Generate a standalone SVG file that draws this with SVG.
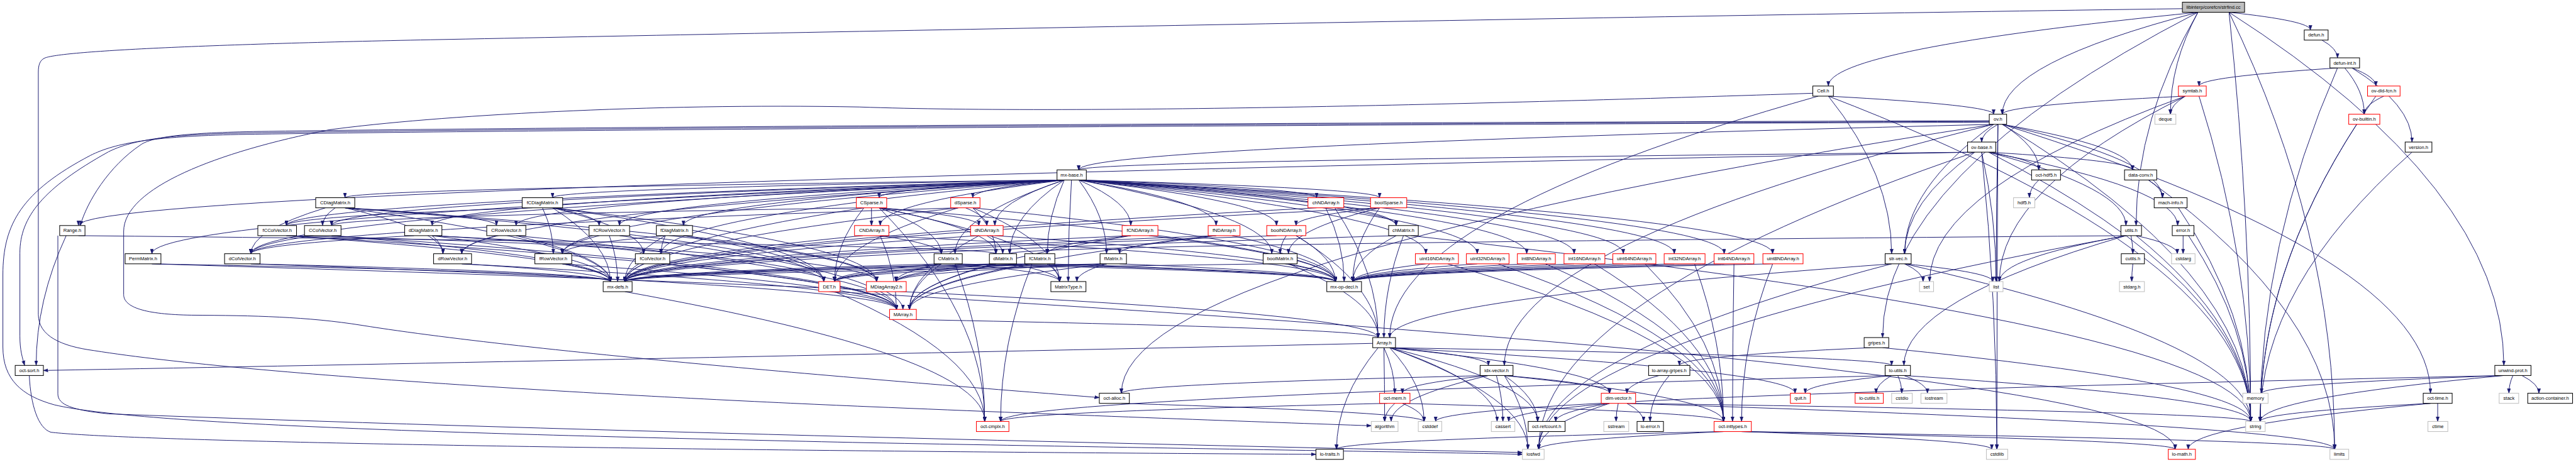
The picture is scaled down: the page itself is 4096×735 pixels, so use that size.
<svg xmlns="http://www.w3.org/2000/svg" width="4096" height="735" viewBox="0 0 4096 735">
<defs>
<marker id="a" markerUnits="userSpaceOnUse" markerWidth="14" markerHeight="10" refX="13" refY="5" orient="auto" viewBox="0 0 14 10"><path d="M0,0.5 L13,5 L0,9.5 z" fill="#191970" stroke="#191970" stroke-width="1"/></marker>
<style>
.edges path{fill:none;stroke:#191970;stroke-width:1.7;marker-end:url(#a)}
.node rect{fill:#ffffff;stroke:#000000;stroke-width:1.8}
.node.r rect{stroke:#ff0000}
.node.g rect{stroke:#bfbfbf}
.node.root rect{fill:#bfbfbf}
.node text{font-family:"Liberation Sans",Arial,Helvetica,sans-serif;font-size:13.2px;text-anchor:middle;fill:#000000}
</style>
</defs>
<rect x="0" y="0" width="4096" height="735" fill="#ffffff"/>
<g transform="scale(0.575)">
<g id="edges" class="edges">
<path d="M6164,34 Q6389,58 6389,83"/>
<path d="M6078,34 Q5056,136 5056,238"/>
<path d="M6078,34 Q5537,175 5537,316"/>
<path d="M6078,34 Q6002,175 6002,316"/>
<path d="M6078,34 Q5907,329 5907,624"/>
<path d="M6078,34 Q5206,484 5206,934"/>
<path d="M6164,34 Q6924,522 6924,1011"/>
<path d="M6164,34 Q6224,600 6224,1166"/>
<path d="M6164,34 Q6456,638 6456,1243"/>
<path d="M6035,24 C4500,45 2200,90 1190,110 C600,122 180,140 125,160 C110,166 106,180 106,200 L106,870 C106,930 170,958 260,970 C700,1040 1800,1100 2400,1125 C3000,1150 3500,1168 3792,1178"/>
<path d="M6421,111 Q6464,135 6464,160"/>
<path d="M6464,188 Q6081,213 6081,238"/>
<path d="M6504,188 Q6570,213 6570,238"/>
<path d="M6484,188 Q6538,252 6538,316"/>
<path d="M6504,188 Q6670,290 6670,393"/>
<path d="M6464,188 Q6250,677 6250,1166"/>
<path d="M6592,266 Q6538,291 6538,316"/>
<path d="M6570,266 Q6250,716 6250,1166"/>
<path d="M6517,344 Q6250,755 6250,1166"/>
<path d="M6670,421 Q6250,793 6250,1166"/>
<path d="M6043,266 Q6002,291 6002,316"/>
<path d="M6043,266 Q5537,291 5537,316"/>
<path d="M6043,266 Q5529,522 5529,779"/>
<path d="M6043,266 Q5336,522 5336,779"/>
<path d="M6081,266 Q6224,716 6224,1166"/>
<path d="M5056,266 Q5513,291 5513,316"/>
<path d="M5028,266 Q3843,600 3843,934"/>
<path d="M5013,258 C4200,285 3000,318 2376,296 C1800,285 1200,320 911,359 C600,420 342,520 342,640 L342,815 C342,850 400,870 530,872 C700,873 850,876 1000,900 C1500,980 2600,1065 3040,1100"/>
<path d="M5056,266 Q5231,484 5231,702"/>
<path d="M5056,266 Q6224,716 6224,1166"/>
<path d="M5525,344 Q5480,368 5480,393"/>
<path d="M5537,344 Q5638,407 5638,470"/>
<path d="M5537,344 Q5897,407 5897,470"/>
<path d="M5537,344 Q5980,445 5980,547"/>
<path d="M5501,334 C4000,338 1600,350 700,364 C500,368 420,380 390,400 C300,460 240,560 222,624"/>
<path d="M5501,336 C4000,341 1600,353 680,368 C450,372 360,390 300,420 C120,520 55,600 55,700 L55,930 C55,970 62,990 68,1011"/>
<path d="M5513,344 Q4160,677 4160,1011"/>
<path d="M5513,344 Q2983,407 2983,470"/>
<path d="M5513,344 Q3101,716 3101,1088"/>
<path d="M5537,344 Q6721,716 6721,1088"/>
<path d="M5513,344 Q5267,523 5267,702"/>
<path d="M5525,344 Q5522,793 5522,1243"/>
<path d="M5501,338 C4000,344 1600,357 660,372 C420,378 320,395 250,430 C60,530 8,620 8,760 L8,960 C8,1050 60,1095 150,1120 C400,1180 1500,1205 2400,1225 C3500,1245 4000,1252 4210,1257"/>
<path d="M5537,344 Q6224,755 6224,1166"/>
<path d="M5525,344 Q5520,561 5520,779"/>
<path d="M5499,421 Q5638,445 5638,470"/>
<path d="M5499,421 Q5897,445 5897,470"/>
<path d="M5461,421 Q217,522 217,624"/>
<path d="M5461,421 Q2983,445 2983,470"/>
<path d="M5461,421 Q5267,561 5267,702"/>
<path d="M5499,421 Q6022,522 6022,624"/>
<path d="M5499,421 Q5879,522 5879,624"/>
<path d="M5480,421 Q5522,832 5522,1243"/>
<path d="M5461,421 Q4255,832 4255,1243"/>
<path d="M5480,421 Q5520,600 5520,779"/>
<path d="M5499,421 Q6224,793 6224,1166"/>
<path d="M5638,498 Q5612,522 5612,547"/>
<path d="M5941,498 Q5980,522 5980,547"/>
<path d="M5941,498 Q6456,870 6456,1243"/>
<path d="M6024,575 Q6224,870 6224,1166"/>
<path d="M2963,498 Q2954,638 2954,779"/>
<path d="M2983,498 Q3517,600 3517,702"/>
<path d="M2983,498 Q3861,561 3861,624"/>
<path d="M2943,498 Q2792,600 2792,702"/>
<path d="M2943,498 Q2641,600 2641,702"/>
<path d="M2983,498 Q3060,600 3060,702"/>
<path d="M2943,498 Q2896,600 2896,702"/>
<path d="M2943,498 Q694,600 694,702"/>
<path d="M2943,498 Q917,561 917,624"/>
<path d="M2943,498 Q1828,600 1828,702"/>
<path d="M2943,498 Q792,561 792,624"/>
<path d="M2943,498 Q1277,600 1277,702"/>
<path d="M2943,498 Q1427,561 1427,624"/>
<path d="M2943,498 Q1555,600 1555,702"/>
<path d="M2943,498 Q1713,561 1713,624"/>
<path d="M2943,498 Q1195,561 1195,624"/>
<path d="M2943,498 Q954,522 954,547"/>
<path d="M2943,498 Q1890,561 1890,624"/>
<path d="M2943,498 Q1528,522 1528,547"/>
<path d="M2943,498 Q420,600 420,702"/>
<path d="M2983,498 Q3815,522 3815,547"/>
<path d="M2943,498 Q2690,522 2690,547"/>
<path d="M2943,498 Q2431,522 2431,547"/>
<path d="M2983,498 Q3530,561 3530,624"/>
<path d="M2983,498 Q3641,522 3641,547"/>
<path d="M2943,498 Q2751,561 2751,624"/>
<path d="M2943,498 Q2434,561 2434,624"/>
<path d="M2983,498 Q3363,561 3363,624"/>
<path d="M2983,498 Q3127,561 3127,624"/>
<path d="M2983,498 Q4222,600 4222,702"/>
<path d="M2983,498 Q4353,600 4353,702"/>
<path d="M2983,498 Q4630,600 4630,702"/>
<path d="M2983,498 Q4768,600 4768,702"/>
<path d="M2983,498 Q4902,600 4902,702"/>
<path d="M2983,498 Q3943,600 3943,702"/>
<path d="M2983,498 Q4085,600 4085,702"/>
<path d="M2983,498 Q4489,600 4489,702"/>
<path d="M217,652 Q2754,677 2754,702"/>
<path d="M183,652 Q100,831 100,1011"/>
<path d="M160,652 L160,1090 C160,1120 200,1135 300,1145 C1500,1190 3000,1225 4210,1252"/>
<path d="M954,575 Q1225,638 1225,702"/>
<path d="M954,575 Q1373,599 1373,624"/>
<path d="M900,575 Q694,638 694,702"/>
<path d="M927,575 Q892,599 892,624"/>
<path d="M954,575 Q2278,677 2278,779"/>
<path d="M954,575 Q1688,677 1688,779"/>
<path d="M954,575 Q2424,677 2424,779"/>
<path d="M1500,575 Q1530,638 1530,702"/>
<path d="M1528,575 Q1657,599 1657,624"/>
<path d="M1528,575 Q1780,638 1780,702"/>
<path d="M1472,575 Q792,599 792,624"/>
<path d="M1528,575 Q2278,677 2278,779"/>
<path d="M1528,575 Q1688,677 1688,779"/>
<path d="M1528,575 Q2424,677 2424,779"/>
<path d="M1195,652 Q1225,677 1225,702"/>
<path d="M1145,652 Q694,677 694,702"/>
<path d="M1195,652 Q2278,715 2278,779"/>
<path d="M1195,652 Q1688,715 1688,779"/>
<path d="M1195,652 Q2424,715 2424,779"/>
<path d="M1840,652 Q1555,677 1555,702"/>
<path d="M1840,652 Q1828,677 1828,702"/>
<path d="M1890,652 Q2278,715 2278,779"/>
<path d="M1840,652 Q1728,715 1728,779"/>
<path d="M1890,652 Q2424,715 2424,779"/>
<path d="M792,652 Q1780,677 1780,702"/>
<path d="M792,652 Q2479,754 2479,856"/>
<path d="M792,652 Q1688,715 1688,779"/>
<path d="M867,652 Q694,677 694,702"/>
<path d="M917,652 Q2479,754 2479,856"/>
<path d="M917,652 Q1688,715 1688,779"/>
<path d="M1373,652 Q1277,677 1277,702"/>
<path d="M1427,652 Q2479,754 2479,856"/>
<path d="M1427,652 Q1688,715 1688,779"/>
<path d="M1657,652 Q1555,677 1555,702"/>
<path d="M1713,652 Q2479,754 2479,856"/>
<path d="M1685,652 Q1708,715 1708,779"/>
<path d="M694,730 Q2479,793 2479,856"/>
<path d="M694,730 Q1688,754 1688,779"/>
<path d="M1277,730 Q2479,793 2479,856"/>
<path d="M1277,730 Q1688,754 1688,779"/>
<path d="M1555,730 Q2479,793 2479,856"/>
<path d="M1555,730 Q1688,754 1688,779"/>
<path d="M1828,730 Q2479,793 2479,856"/>
<path d="M1780,730 Q1728,754 1728,779"/>
<path d="M420,730 Q3811,832 3811,934"/>
<path d="M420,730 Q1688,754 1688,779"/>
<path d="M2603,730 Q2515,793 2515,856"/>
<path d="M2603,730 Q2478,754 2478,779"/>
<path d="M2641,730 Q2930,754 2930,779"/>
<path d="M2603,730 Q1728,754 1728,779"/>
<path d="M2641,730 Q3693,754 3693,779"/>
<path d="M2641,730 Q2723,948 2723,1166"/>
<path d="M2603,730 Q2308,754 2308,779"/>
<path d="M2754,730 Q2515,793 2515,856"/>
<path d="M2754,730 Q2478,754 2478,779"/>
<path d="M2792,730 Q2930,754 2930,779"/>
<path d="M2754,730 Q1728,754 1728,779"/>
<path d="M2792,730 Q3693,754 3693,779"/>
<path d="M2754,730 Q2308,754 2308,779"/>
<path d="M2854,730 Q2515,793 2515,856"/>
<path d="M2854,730 Q2478,754 2478,779"/>
<path d="M2896,730 Q2930,754 2930,779"/>
<path d="M2854,730 Q1728,754 1728,779"/>
<path d="M2896,730 Q3693,754 3693,779"/>
<path d="M2854,730 Q2767,948 2767,1166"/>
<path d="M2854,730 Q2308,754 2308,779"/>
<path d="M3060,730 Q2515,793 2515,856"/>
<path d="M3060,730 Q2478,754 2478,779"/>
<path d="M3060,730 Q2978,754 2978,779"/>
<path d="M3060,730 Q1728,754 1728,779"/>
<path d="M3096,730 Q3693,754 3693,779"/>
<path d="M3060,730 Q2308,754 2308,779"/>
<path d="M3563,730 Q3811,832 3811,934"/>
<path d="M3517,730 Q1728,754 1728,779"/>
<path d="M3563,730 Q3693,754 3693,779"/>
<path d="M3881,652 Q3827,793 3827,934"/>
<path d="M3861,652 Q1728,715 1728,779"/>
<path d="M3861,652 Q3741,715 3741,779"/>
<path d="M3901,652 Q6224,909 6224,1166"/>
<path d="M3691,575 Q3861,599 3861,624"/>
<path d="M3691,575 Q3811,754 3811,934"/>
<path d="M3641,575 Q1728,677 1728,779"/>
<path d="M3666,575 Q3717,677 3717,779"/>
<path d="M3557,652 Q3540,677 3540,702"/>
<path d="M3584,652 Q3811,793 3811,934"/>
<path d="M3530,652 Q1728,715 1728,779"/>
<path d="M3584,652 Q3693,715 3693,779"/>
<path d="M2729,652 Q2773,677 2773,702"/>
<path d="M2707,652 Q2515,754 2515,856"/>
<path d="M2707,652 Q1728,715 1728,779"/>
<path d="M2751,652 Q3693,715 3693,779"/>
<path d="M2434,652 Q2603,677 2603,702"/>
<path d="M2434,652 Q2479,754 2479,856"/>
<path d="M2386,652 Q1728,715 1728,779"/>
<path d="M2434,652 Q3693,715 3693,779"/>
<path d="M3363,652 Q3096,677 3096,702"/>
<path d="M3363,652 Q2515,754 2515,856"/>
<path d="M3363,652 Q1728,715 1728,779"/>
<path d="M3407,652 Q3693,715 3693,779"/>
<path d="M3127,652 Q2896,677 2896,702"/>
<path d="M3127,652 Q2515,754 2515,856"/>
<path d="M3127,652 Q1728,715 1728,779"/>
<path d="M3177,652 Q3693,715 3693,779"/>
<path d="M2410,575 Q2410,599 2410,624"/>
<path d="M2431,575 Q2707,599 2707,624"/>
<path d="M2431,575 Q2603,638 2603,702"/>
<path d="M2431,575 Q2754,638 2754,702"/>
<path d="M2389,575 Q917,599 917,624"/>
<path d="M2431,575 Q2723,870 2723,1166"/>
<path d="M2389,575 Q2308,677 2308,779"/>
<path d="M2431,575 Q2930,677 2930,779"/>
<path d="M2389,575 Q1728,677 1728,779"/>
<path d="M2431,575 Q3693,677 3693,779"/>
<path d="M2670,575 Q2729,599 2729,624"/>
<path d="M2690,575 Q2754,638 2754,702"/>
<path d="M2650,575 Q694,638 694,702"/>
<path d="M2650,575 Q2308,677 2308,779"/>
<path d="M2690,575 Q2930,677 2930,779"/>
<path d="M2650,575 Q1728,677 1728,779"/>
<path d="M2690,575 Q3693,677 3693,779"/>
<path d="M3815,575 Q3563,638 3563,702"/>
<path d="M3815,575 Q3584,599 3584,624"/>
<path d="M3815,575 Q1728,677 1728,779"/>
<path d="M3815,575 Q3741,677 3741,779"/>
<path d="M3943,730 Q3741,754 3741,779"/>
<path d="M4003,730 Q4766,948 4766,1166"/>
<path d="M4085,730 Q3741,754 3741,779"/>
<path d="M4143,730 Q4766,948 4766,1166"/>
<path d="M4222,730 Q3741,754 3741,779"/>
<path d="M4274,730 Q4766,948 4766,1166"/>
<path d="M4353,730 Q3741,754 3741,779"/>
<path d="M4409,730 Q4766,948 4766,1166"/>
<path d="M4489,730 Q3741,754 3741,779"/>
<path d="M4549,730 Q4766,948 4766,1166"/>
<path d="M4630,730 Q3741,754 3741,779"/>
<path d="M4686,730 Q4766,948 4766,1166"/>
<path d="M4768,730 Q3741,754 3741,779"/>
<path d="M4795,730 Q4791,948 4791,1166"/>
<path d="M4902,730 Q3741,754 3741,779"/>
<path d="M4902,730 Q4816,948 4816,1166"/>
<path d="M2308,807 Q2723,986 2723,1166"/>
<path d="M2308,807 Q6015,1025 6015,1243"/>
<path d="M2451,807 Q2497,831 2497,856"/>
<path d="M2515,884 Q3811,909 3811,934"/>
<path d="M1728,807 Q2723,986 2723,1166"/>
<path d="M3843,962 Q4116,986 4116,1011"/>
<path d="M3827,962 Q3857,1025 3857,1088"/>
<path d="M3843,962 Q4451,1025 4451,1088"/>
<path d="M3811,962 Q3696,1102 3696,1243"/>
<path d="M3843,962 Q5231,986 5231,1011"/>
<path d="M3843,962 Q4964,1025 4964,1088"/>
<path d="M3843,962 Q4252,1064 4252,1166"/>
<path d="M3827,962 Q3829,1064 3829,1166"/>
<path d="M3843,962 Q3938,1064 3938,1166"/>
<path d="M3843,962 Q4140,1064 4140,1166"/>
<path d="M3843,962 Q4225,1102 4225,1243"/>
<path d="M3796,950 Q1500,1000 120,1025"/>
<path d="M4160,1039 Q4451,1063 4451,1088"/>
<path d="M4160,1039 Q4766,1102 4766,1166"/>
<path d="M4116,1039 Q3101,1063 3101,1088"/>
<path d="M4116,1039 Q3878,1063 3878,1088"/>
<path d="M4160,1039 Q4252,1102 4252,1166"/>
<path d="M4138,1039 Q4156,1102 4156,1166"/>
<path d="M4116,1039 Q3847,1102 3847,1166"/>
<path d="M4160,1039 Q4225,1141 4225,1243"/>
<path d="M3836,1116 Q2767,1141 2767,1166"/>
<path d="M3878,1116 Q4766,1141 4766,1166"/>
<path d="M3857,1116 Q3829,1141 3829,1166"/>
<path d="M3878,1116 Q3938,1141 3938,1166"/>
<path d="M4451,1116 Q4172,1141 4172,1166"/>
<path d="M4499,1116 Q6456,1179 6456,1243"/>
<path d="M4475,1116 Q4469,1141 4469,1166"/>
<path d="M4499,1116 Q6224,1141 6224,1166"/>
<path d="M4499,1116 Q4545,1141 4545,1166"/>
<path d="M4451,1116 Q4302,1141 4302,1166"/>
<path d="M4451,1116 Q4255,1179 4255,1243"/>
<path d="M4588,1039 Q4499,1063 4499,1088"/>
<path d="M4616,1039 Q4563,1102 4563,1166"/>
<path d="M81,1039 C85,1120 105,1185 141,1196 C400,1225 2000,1248 3639,1257"/>
<path d="M4816,1194 Q5508,1218 5508,1243"/>
<path d="M4816,1194 Q6456,1218 6456,1243"/>
<path d="M4766,1194 Q4255,1218 4255,1243"/>
<path d="M4816,1194 Q6015,1218 6015,1243"/>
<path d="M4766,1194 Q3696,1218 3696,1243"/>
<path d="M5231,730 Q3843,832 3843,934"/>
<path d="M5267,730 Q5318,754 5318,779"/>
<path d="M5267,730 Q5511,754 5511,779"/>
<path d="M5267,730 Q6224,948 6224,1166"/>
<path d="M5231,730 Q4255,986 4255,1243"/>
<path d="M5172,962 Q4644,986 4644,1011"/>
<path d="M5206,962 Q6224,1064 6224,1166"/>
<path d="M5879,652 Q2792,677 2792,702"/>
<path d="M5879,652 Q5265,831 5265,1011"/>
<path d="M5893,652 Q5898,677 5898,702"/>
<path d="M5879,652 Q5529,715 5529,779"/>
<path d="M5907,652 Q6021,677 6021,702"/>
<path d="M5879,652 Q4255,947 4255,1243"/>
<path d="M5907,652 Q6224,909 6224,1166"/>
<path d="M5231,1039 Q4992,1063 4992,1088"/>
<path d="M5231,1039 Q5188,1063 5188,1088"/>
<path d="M5248,1039 Q5259,1063 5259,1088"/>
<path d="M5265,1039 Q5330,1063 5330,1088"/>
<path d="M5265,1039 Q6224,1102 6224,1166"/>
<path d="M5231,1039 Q2767,1102 2767,1166"/>
<path d="M5898,730 Q5895,754 5895,779"/>
<path d="M6037,652 Q6037,677 6037,702"/>
<path d="M6052,652 Q6224,909 6224,1166"/>
<path d="M6949,1039 Q6938,1063 6938,1088"/>
<path d="M6974,1039 Q7021,1063 7021,1088"/>
<path d="M6924,1039 Q6254,1063 6254,1088"/>
<path d="M6924,1039 Q3970,1102 3970,1166"/>
<path d="M6924,1039 Q6250,1102 6250,1166"/>
<path d="M6741,1116 Q6741,1141 6741,1166"/>
<path d="M6721,1116 Q6250,1141 6250,1166"/>
<path d="M6721,1116 Q6051,1179 6051,1243"/>
<path d="M3101,1116 Q3938,1141 3938,1166"/>
</g>
<g id="n-strfind" class="node root"><rect x="6035" y="6" width="172" height="28"/><text x="6121" y="24.5">libinterp/corefcn/strfind.cc</text></g>
<g id="n-defun" class="node"><rect x="6372" y="83" width="66" height="28"/><text x="6405" y="101.5">defun.h</text></g>
<g id="n-defun-int" class="node"><rect x="6443" y="160" width="82" height="28"/><text x="6484" y="178.5">defun-int.h</text></g>
<g id="n-Cell" class="node"><rect x="5013" y="238" width="57" height="28"/><text x="5041.5" y="256.5">Cell.h</text></g>
<g id="n-symtab" class="node r"><rect x="6024" y="238" width="77" height="28"/><text x="6062.5" y="256.5">symtab.h</text></g>
<g id="n-ov-dld-fcn" class="node r"><rect x="6547" y="238" width="90" height="28"/><text x="6592" y="256.5">ov-dld-fcn.h</text></g>
<g id="n-ov" class="node"><rect x="5501" y="316" width="48" height="28"/><text x="5525" y="334.5">ov.h</text></g>
<g id="n-deque" class="node g"><rect x="5959" y="316" width="58" height="28"/><text x="5988" y="334.5">deque</text></g>
<g id="n-ov-builtin" class="node r"><rect x="6495" y="316" width="86" height="28"/><text x="6538" y="334.5">ov-builtin.h</text></g>
<g id="n-ov-base" class="node"><rect x="5441" y="393" width="78" height="28"/><text x="5480" y="411.5">ov-base.h</text></g>
<g id="n-version" class="node"><rect x="6651" y="393" width="74" height="28"/><text x="6688" y="411.5">version.h</text></g>
<g id="n-mx-base" class="node"><rect x="2923" y="470" width="81" height="28"/><text x="2963.5" y="488.5">mx-base.h</text></g>
<g id="n-oct-hdf5" class="node"><rect x="5618" y="470" width="80" height="28"/><text x="5658" y="488.5">oct-hdf5.h</text></g>
<g id="n-data-conv" class="node"><rect x="5875" y="470" width="89" height="28"/><text x="5919.5" y="488.5">data-conv.h</text></g>
<g id="n-CDiagMatrix" class="node"><rect x="873" y="547" width="108" height="28"/><text x="927" y="565.5">CDiagMatrix.h</text></g>
<g id="n-fCDiagMatrix" class="node"><rect x="1444" y="547" width="112" height="28"/><text x="1500" y="565.5">fCDiagMatrix.h</text></g>
<g id="n-CSparse" class="node r"><rect x="2368" y="547" width="84" height="28"/><text x="2410" y="565.5">CSparse.h</text></g>
<g id="n-dSparse" class="node r"><rect x="2629" y="547" width="81" height="28"/><text x="2669.5" y="565.5">dSparse.h</text></g>
<g id="n-chNDArray" class="node r"><rect x="3617" y="547" width="99" height="28"/><text x="3666.5" y="565.5">chNDArray.h</text></g>
<g id="n-boolSparse" class="node r"><rect x="3790" y="547" width="100" height="28"/><text x="3840" y="565.5">boolSparse.h</text></g>
<g id="n-hdf5" class="node g"><rect x="5568" y="547" width="59" height="28"/><text x="5597.5" y="565.5">hdf5.h</text></g>
<g id="n-mach-info" class="node"><rect x="5957" y="547" width="91" height="28"/><text x="6002.5" y="565.5">mach-info.h</text></g>
<g id="n-Range" class="node"><rect x="165" y="624" width="70" height="28"/><text x="200" y="642.5">Range.h</text></g>
<g id="n-fCColVector" class="node"><rect x="713" y="624" width="107" height="28"/><text x="766.5" y="642.5">fCColVector.h</text></g>
<g id="n-CColVector" class="node"><rect x="842" y="624" width="101" height="28"/><text x="892.5" y="642.5">CColVector.h</text></g>
<g id="n-dDiagMatrix" class="node"><rect x="1119" y="624" width="103" height="28"/><text x="1170.5" y="642.5">dDiagMatrix.h</text></g>
<g id="n-CRowVector" class="node"><rect x="1346" y="624" width="108" height="28"/><text x="1400" y="642.5">CRowVector.h</text></g>
<g id="n-fCRowVector" class="node"><rect x="1629" y="624" width="112" height="28"/><text x="1685" y="642.5">fCRowVector.h</text></g>
<g id="n-fDiagMatrix" class="node"><rect x="1815" y="624" width="100" height="28"/><text x="1865" y="642.5">fDiagMatrix.h</text></g>
<g id="n-CNDArray" class="node r"><rect x="2363" y="624" width="95" height="28"/><text x="2410.5" y="642.5">CNDArray.h</text></g>
<g id="n-dNDArray" class="node r"><rect x="2684" y="624" width="90" height="28"/><text x="2729" y="642.5">dNDArray.h</text></g>
<g id="n-fCNDArray" class="node r"><rect x="3103" y="624" width="99" height="28"/><text x="3152.5" y="642.5">fCNDArray.h</text></g>
<g id="n-fNDArray" class="node r"><rect x="3341" y="624" width="88" height="28"/><text x="3385" y="642.5">fNDArray.h</text></g>
<g id="n-boolNDArray" class="node r"><rect x="3503" y="624" width="108" height="28"/><text x="3557" y="642.5">boolNDArray.h</text></g>
<g id="n-chMatrix" class="node"><rect x="3840" y="624" width="82" height="28"/><text x="3881" y="642.5">chMatrix.h</text></g>
<g id="n-utils" class="node"><rect x="5865" y="624" width="57" height="28"/><text x="5893.5" y="642.5">utils.h</text></g>
<g id="n-error" class="node"><rect x="6007" y="624" width="60" height="28"/><text x="6037" y="642.5">error.h</text></g>
<g id="n-PermMatrix" class="node"><rect x="346" y="702" width="99" height="28"/><text x="395.5" y="720.5">PermMatrix.h</text></g>
<g id="n-dColVector" class="node"><rect x="621" y="702" width="98" height="28"/><text x="670" y="720.5">dColVector.h</text></g>
<g id="n-dRowVector" class="node"><rect x="1199" y="702" width="105" height="28"/><text x="1251.5" y="720.5">dRowVector.h</text></g>
<g id="n-fRowVector" class="node"><rect x="1479" y="702" width="102" height="28"/><text x="1530" y="720.5">fRowVector.h</text></g>
<g id="n-fColVector" class="node"><rect x="1757" y="702" width="95" height="28"/><text x="1804.5" y="720.5">fColVector.h</text></g>
<g id="n-CMatrix" class="node"><rect x="2583" y="702" width="78" height="28"/><text x="2622" y="720.5">CMatrix.h</text></g>
<g id="n-dMatrix" class="node"><rect x="2736" y="702" width="75" height="28"/><text x="2773.5" y="720.5">dMatrix.h</text></g>
<g id="n-fCMatrix" class="node"><rect x="2834" y="702" width="83" height="28"/><text x="2875.5" y="720.5">fCMatrix.h</text></g>
<g id="n-fMatrix" class="node"><rect x="3042" y="702" width="73" height="28"/><text x="3078.5" y="720.5">fMatrix.h</text></g>
<g id="n-boolMatrix" class="node"><rect x="3493" y="702" width="94" height="28"/><text x="3540" y="720.5">boolMatrix.h</text></g>
<g id="n-uint16NDArray" class="node r"><rect x="3914" y="702" width="119" height="28"/><text x="3973.5" y="720.5">uint16NDArray.h</text></g>
<g id="n-uint32NDArray" class="node r"><rect x="4055" y="702" width="118" height="28"/><text x="4114" y="720.5">uint32NDArray.h</text></g>
<g id="n-int8NDArray" class="node r"><rect x="4196" y="702" width="105" height="28"/><text x="4248.5" y="720.5">int8NDArray.h</text></g>
<g id="n-int16NDArray" class="node r"><rect x="4325" y="702" width="113" height="28"/><text x="4381.5" y="720.5">int16NDArray.h</text></g>
<g id="n-uint64NDArray" class="node r"><rect x="4460" y="702" width="119" height="28"/><text x="4519.5" y="720.5">uint64NDArray.h</text></g>
<g id="n-int32NDArray" class="node r"><rect x="4602" y="702" width="113" height="28"/><text x="4658.5" y="720.5">int32NDArray.h</text></g>
<g id="n-int64NDArray" class="node r"><rect x="4740" y="702" width="110" height="28"/><text x="4795" y="720.5">int64NDArray.h</text></g>
<g id="n-uint8NDArray" class="node r"><rect x="4875" y="702" width="111" height="28"/><text x="4930.5" y="720.5">uint8NDArray.h</text></g>
<g id="n-str-vec" class="node"><rect x="5213" y="702" width="72" height="28"/><text x="5249" y="720.5">str-vec.h</text></g>
<g id="n-cutils" class="node"><rect x="5866" y="702" width="64" height="28"/><text x="5898" y="720.5">cutils.h</text></g>
<g id="n-cstdarg" class="node g"><rect x="6005" y="702" width="65" height="28"/><text x="6037.5" y="720.5">cstdarg</text></g>
<g id="n-mx-defs" class="node"><rect x="1668" y="779" width="80" height="28"/><text x="1708" y="797.5">mx-defs.h</text></g>
<g id="n-DET" class="node r"><rect x="2264" y="779" width="59" height="28"/><text x="2293.5" y="797.5">DET.h</text></g>
<g id="n-MDiagArray2" class="node r"><rect x="2396" y="779" width="110" height="28"/><text x="2451" y="797.5">MDiagArray2.h</text></g>
<g id="n-MatrixType" class="node"><rect x="2906" y="779" width="97" height="28"/><text x="2954.5" y="797.5">MatrixType.h</text></g>
<g id="n-mx-op-decl" class="node"><rect x="3669" y="779" width="96" height="28"/><text x="3717" y="797.5">mx-op-decl.h</text></g>
<g id="n-set" class="node g"><rect x="5308" y="779" width="39" height="28"/><text x="5327.5" y="797.5">set</text></g>
<g id="n-list" class="node g"><rect x="5501" y="779" width="38" height="28"/><text x="5520" y="797.5">list</text></g>
<g id="n-stdarg" class="node g"><rect x="5861" y="779" width="69" height="28"/><text x="5895.5" y="797.5">stdarg.h</text></g>
<g id="n-MArray" class="node r"><rect x="2460" y="856" width="74" height="28"/><text x="2497" y="874.5">MArray.h</text></g>
<g id="n-Array" class="node"><rect x="3796" y="934" width="63" height="28"/><text x="3827.5" y="952.5">Array.h</text></g>
<g id="n-gripes" class="node"><rect x="5155" y="934" width="68" height="28"/><text x="5189" y="952.5">gripes.h</text></g>
<g id="n-oct-sort" class="node"><rect x="42" y="1011" width="78" height="28"/><text x="81" y="1029.5">oct-sort.h</text></g>
<g id="n-idx-vector" class="node"><rect x="4093" y="1011" width="91" height="28"/><text x="4138.5" y="1029.5">idx-vector.h</text></g>
<g id="n-lo-array-gripes" class="node"><rect x="4559" y="1011" width="114" height="28"/><text x="4616" y="1029.5">lo-array-gripes.h</text></g>
<g id="n-lo-utils" class="node"><rect x="5213" y="1011" width="70" height="28"/><text x="5248" y="1029.5">lo-utils.h</text></g>
<g id="n-unwind-prot" class="node"><rect x="6899" y="1011" width="100" height="28"/><text x="6949" y="1029.5">unwind-prot.h</text></g>
<g id="n-oct-alloc" class="node"><rect x="3040" y="1088" width="83" height="28"/><text x="3081.5" y="1106.5">oct-alloc.h</text></g>
<g id="n-oct-mem" class="node r"><rect x="3815" y="1088" width="84" height="28"/><text x="3857" y="1106.5">oct-mem.h</text></g>
<g id="n-dim-vector" class="node r"><rect x="4428" y="1088" width="95" height="28"/><text x="4475.5" y="1106.5">dim-vector.h</text></g>
<g id="n-quit" class="node r"><rect x="4951" y="1088" width="55" height="28"/><text x="4978.5" y="1106.5">quit.h</text></g>
<g id="n-lo-cutils" class="node r"><rect x="5130" y="1088" width="78" height="28"/><text x="5169" y="1106.5">lo-cutils.h</text></g>
<g id="n-cstdio" class="node g"><rect x="5231" y="1088" width="57" height="28"/><text x="5259.5" y="1106.5">cstdio</text></g>
<g id="n-iostream" class="node g"><rect x="5312" y="1088" width="72" height="28"/><text x="5348" y="1106.5">iostream</text></g>
<g id="n-memory" class="node g"><rect x="6202" y="1088" width="70" height="28"/><text x="6237" y="1106.5">memory</text></g>
<g id="n-oct-time" class="node"><rect x="6701" y="1088" width="80" height="28"/><text x="6741" y="1106.5">oct-time.h</text></g>
<g id="n-stack" class="node g"><rect x="6911" y="1088" width="54" height="28"/><text x="6938" y="1106.5">stack</text></g>
<g id="n-action-container" class="node"><rect x="6990" y="1088" width="124" height="28"/><text x="7052" y="1106.5">action-container.h</text></g>
<g id="n-oct-cmplx" class="node r"><rect x="2700" y="1166" width="90" height="28"/><text x="2745" y="1184.5">oct-cmplx.h</text></g>
<g id="n-algorithm" class="node g"><rect x="3792" y="1166" width="74" height="28"/><text x="3829" y="1184.5">algorithm</text></g>
<g id="n-cstddef" class="node g"><rect x="3922" y="1166" width="65" height="28"/><text x="3954.5" y="1184.5">cstddef</text></g>
<g id="n-cassert" class="node g"><rect x="4124" y="1166" width="65" height="28"/><text x="4156.5" y="1184.5">cassert</text></g>
<g id="n-oct-refcount" class="node"><rect x="4226" y="1166" width="102" height="28"/><text x="4277" y="1184.5">oct-refcount.h</text></g>
<g id="n-sstream" class="node g"><rect x="4435" y="1166" width="69" height="28"/><text x="4469.5" y="1184.5">sstream</text></g>
<g id="n-lo-error" class="node"><rect x="4527" y="1166" width="73" height="28"/><text x="4563.5" y="1184.5">lo-error.h</text></g>
<g id="n-oct-inttypes" class="node r"><rect x="4740" y="1166" width="103" height="28"/><text x="4791.5" y="1184.5">oct-inttypes.h</text></g>
<g id="n-string" class="node g"><rect x="6210" y="1166" width="54" height="28"/><text x="6237" y="1184.5">string</text></g>
<g id="n-ctime" class="node g"><rect x="6714" y="1166" width="55" height="28"/><text x="6741.5" y="1184.5">ctime</text></g>
<g id="n-lo-traits" class="node"><rect x="3639" y="1243" width="76" height="28"/><text x="3677" y="1261.5">lo-traits.h</text></g>
<g id="n-iosfwd" class="node g"><rect x="4210" y="1243" width="60" height="28"/><text x="4240" y="1261.5">iosfwd</text></g>
<g id="n-cstdlib" class="node g"><rect x="5493" y="1243" width="59" height="28"/><text x="5522.5" y="1261.5">cstdlib</text></g>
<g id="n-lo-math" class="node r"><rect x="5996" y="1243" width="75" height="28"/><text x="6033.5" y="1261.5">lo-math.h</text></g>
<g id="n-limits" class="node g"><rect x="6443" y="1243" width="52" height="28"/><text x="6469" y="1261.5">limits</text></g>
</g>
</svg>
